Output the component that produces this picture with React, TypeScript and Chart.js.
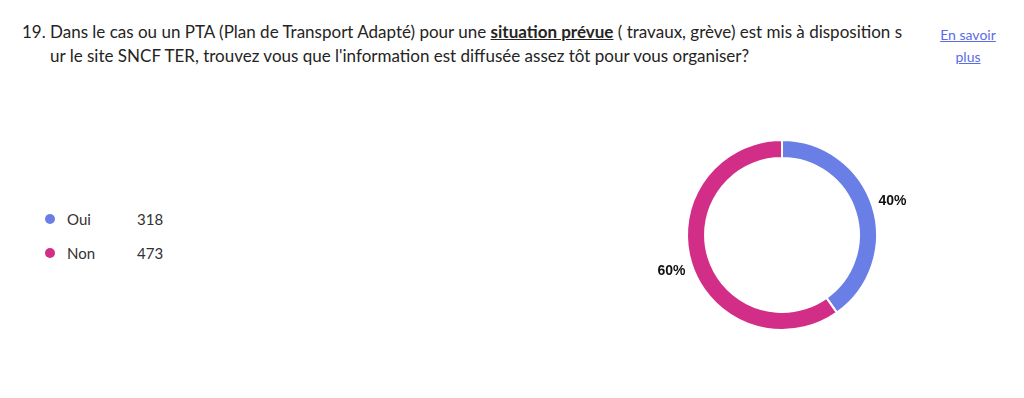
import React, { useEffect, useRef } from "react";
import { Chart, registerables } from "chart.js";

Chart.register(...registerables);

const categories = ["Oui", "Non"];
const counts = [318, 473];
const colors = ["#6A7FE6", "#D22E88"];
const questionNumber = "19.";
const titleBefore = "Dans le cas ou un PTA (Plan de Transport Adapté) pour une ";
const titleBold = "situation prévue";
const titleAfterLine1 = " ( travaux, grève) est mis à disposition s";
const titleLine2 = "ur le site SNCF TER, trouvez vous que l'information est diffusée assez tôt pour vous organiser?";
const linkLines = ["En savoir", "plus"];

const FONT = "'Segoe UI', Lato, 'Open Sans', 'Noto Sans', sans-serif";

const percentLabels = {
  id: "percentLabels",
  afterDatasetsDraw(chart: any) {
    const ctx = chart.ctx;
    const meta = chart.getDatasetMeta(0);
    const data = chart.data.datasets[0].data as number[];
    const total = data.reduce((a, b) => a + b, 0);
    ctx.save();
    ctx.font = "bold 14px 'Liberation Sans', Arial, sans-serif";
    ctx.fillStyle = "#111";
    ctx.textAlign = "center";
    ctx.textBaseline = "middle";
    meta.data.forEach((arc: any, i: number) => {
      const mid = (arc.startAngle + arc.endAngle) / 2;
      const r = arc.outerRadius + 21;
      const x = arc.x + Math.cos(mid) * r;
      const y = arc.y + Math.sin(mid) * r + 1;
      ctx.fillText(Math.round((data[i] / total) * 100) + "%", x, y);
    });
    ctx.restore();
  },
};

export default function App() {
  const ref = useRef<HTMLCanvasElement>(null);
  useEffect(() => {
    if (!ref.current) return;
    const chart = new Chart(ref.current, {
      type: "doughnut",
      data: {
        labels: categories,
        datasets: [
          {
            data: counts,
            backgroundColor: colors,
            borderColor: "#ffffff",
            borderWidth: 2,
          },
        ],
      },
      options: {
        animation: false,
        responsive: false,
        cutout: "81%",
        layout: { padding: 4 },
        plugins: { legend: { display: false }, tooltip: { enabled: false } },
      },
      plugins: [percentLabels],
    });
    return () => chart.destroy();
  }, []);

  return (
    <div
      style={{
        position: "relative",
        width: 1024,
        height: 398,
        margin: -8,
        background: "#fff",
        fontFamily: FONT,
        color: "#252423",
        overflow: "hidden",
      }}
    >
      <div style={{ position: "absolute", left: 22, top: 20, fontSize: 17, lineHeight: "24px", whiteSpace: "nowrap" }}>
        {questionNumber}
      </div>
      <div style={{ position: "absolute", left: 50, top: 20, fontSize: 17, lineHeight: "24px", whiteSpace: "nowrap" }}>
        <div>
          {titleBefore}
          <span style={{ fontWeight: 700, textDecoration: "underline" }}>{titleBold}</span>
          {titleAfterLine1}
        </div>
        <div>{titleLine2}</div>
      </div>
      <div
        style={{
          position: "absolute",
          left: 938,
          width: 60,
          top: 24,
          fontSize: 14,
          lineHeight: "22px",
          textAlign: "center",
          color: "#5B6BE8",
          textDecoration: "underline",
        }}
      >
        {linkLines.map((l, i) => (
          <div key={i}>{l}</div>
        ))}
      </div>
      {categories.map((c, i) => (
        <div
          key={c}
          style={{
            position: "absolute",
            left: 45,
            top: 208 + i * 34,
            height: 22,
            display: "flex",
            alignItems: "center",
            fontSize: 15,
            color: "#323130",
          }}
        >
          <span
            style={{
              display: "inline-block",
              width: 10,
              height: 10,
              borderRadius: 5,
              background: colors[i],
              marginRight: 12,
            }}
          />
          <span style={{ display: "inline-block", width: 70 }}>{c}</span>
          <span>{counts[i]}</span>
        </div>
      ))}
      <canvas
        ref={ref}
        width={320}
        height={200}
        style={{ position: "absolute", left: 622, top: 135, width: 320, height: 200 }}
      />
    </div>
  );
}
